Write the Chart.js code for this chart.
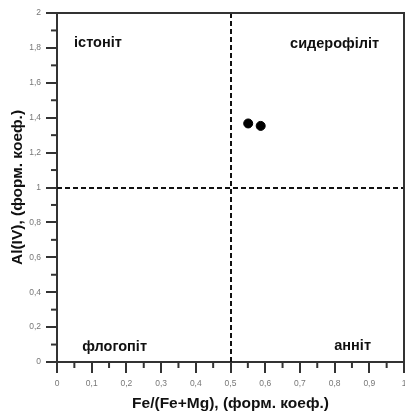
<!DOCTYPE html>
<html>
<head>
<meta charset="utf-8">
<script src="https://cdn.jsdelivr.net/npm/chart.js@4"></script>
<style>
  html, body { margin: 0; padding: 0; background: #fff; }
  #wrap { width: 405px; height: 413px; }
</style>
</head>
<body>
<div id="wrap"><canvas id="chart"></canvas></div>
<script>
// data
var ratioFe = [0.551, 0.587];
var alIV = [1.367, 1.353];

var fieldNames = ["істоніт", "сидерофіліт", "флогопіт", "анніт"];
var fieldX = [0.118, 0.80, 0.166, 0.852];
var fieldY = [1.827, 1.82, 0.086, 0.09];

var xTitle = "Fe/(Fe+Mg), (форм. коеф.)";
var yTitle = "Al(IV), (форм. коеф.)";
var splitX = 0.5;
var splitY = 1;

function comma(v) {
    var r = Math.round(v * 10) / 10;
    return String(r).replace('.', ',');
}

// frame, dividers, minor ticks and field names
var extras = {
    id: 'extras',
    beforeDatasetsDraw(chart) {
        var ctx = chart.ctx, a = chart.chartArea;
        var xs = chart.scales.x, ys = chart.scales.y;
        ctx.save();
        ctx.strokeStyle = '#111';
        ctx.lineWidth = 2;
        ctx.setLineDash([5, 3]);
        var px = Math.round(xs.getPixelForValue(splitX));
        ctx.beginPath();
        ctx.moveTo(px, a.top);
        ctx.lineTo(px, a.bottom);
        ctx.stroke();
        var py = Math.round(ys.getPixelForValue(splitY));
        ctx.beginPath();
        ctx.moveTo(a.left, py);
        ctx.lineTo(a.right, py);
        ctx.stroke();
        ctx.setLineDash([]);

        // minor ticks
        ctx.strokeStyle = '#333';
        ctx.lineWidth = 2;
        for (var i = 1; i < 20; i += 2) {
            var x = xs.getPixelForValue(i * 0.05);
            ctx.beginPath();
            ctx.moveTo(x, a.bottom);
            ctx.lineTo(x, a.bottom + 6);
            ctx.stroke();
            var y = ys.getPixelForValue(i * 0.1);
            ctx.beginPath();
            ctx.moveTo(a.left, y);
            ctx.lineTo(a.left - 6, y);
            ctx.stroke();
        }

        // top and right frame
        ctx.beginPath();
        ctx.moveTo(a.left - 11, a.top);
        ctx.lineTo(a.right, a.top);
        ctx.lineTo(a.right, a.bottom);
        ctx.stroke();

        ctx.fillStyle = '#111';
        ctx.font = 'bold 14.5px "Liberation Sans", Arial, sans-serif';
        ctx.textAlign = 'center';
        ctx.textBaseline = 'middle';
        fieldNames.forEach(function (n, k) {
            ctx.fillText(n, xs.getPixelForValue(fieldX[k]), ys.getPixelForValue(fieldY[k]));
        });
        ctx.restore();
    }
};

var ctx = document.querySelector('#chart').getContext('2d');
var myChart = new Chart(ctx, {
    type: 'scatter',
    data: {
        datasets: [{
            label: 'біотит',
            data: ratioFe.map(function (v, i) { return { x: v, y: alIV[i] }; }),
            backgroundColor: '#000',
            borderColor: '#000',
            pointRadius: 4.5,
            pointHoverRadius: 4.5
        }]
    },
    options: {
        responsive: true,
        maintainAspectRatio: false,
        animation: false,
        layout: { autoPadding: false, padding: { top: 13, right: 1, left: 0, bottom: 0 } },
        plugins: {
            legend: { display: false },
            tooltip: { enabled: false }
        },
        scales: {
            x: {
                type: 'linear',
                min: 0,
                max: 1,
                afterFit: function (s) { s.height = 51; s.paddingRight = 0; s.paddingLeft = 0; },
                border: { display: true, color: '#333', width: 2 },
                grid: { drawOnChartArea: false, drawTicks: true, tickLength: 11, color: '#333', lineWidth: 2 },
                ticks: {
                    stepSize: 0.1,
                    color: '#777',
                    font: { size: 8.5, family: '"Liberation Sans", Arial, sans-serif' },
                    padding: 6,
                    maxRotation: 0,
                    callback: function (v) { return comma(v); }
                },
                title: {
                    display: true,
                    text: xTitle,
                    color: '#111',
                    font: { size: 15.5, weight: 'bold', family: '"Liberation Sans", Arial, sans-serif' },
                    padding: { top: 2, bottom: 0 }
                }
            },
            y: {
                type: 'linear',
                min: 0,
                max: 2,
                afterFit: function (s) { s.width = 57; s.paddingTop = 0; s.paddingBottom = 0; },
                border: { display: true, color: '#333', width: 2 },
                grid: { drawOnChartArea: false, drawTicks: true, tickLength: 11, color: '#333', lineWidth: 2 },
                ticks: {
                    stepSize: 0.2,
                    color: '#777',
                    font: { size: 8.5, family: '"Liberation Sans", Arial, sans-serif' },
                    padding: 5,
                    callback: function (v) { return comma(v); }
                },
                title: {
                    display: true,
                    text: yTitle,
                    color: '#111',
                    font: { size: 15.5, weight: 'bold', family: '"Liberation Sans", Arial, sans-serif' },
                    padding: { top: 8, bottom: 2 }
                }
            }
        }
    },
    plugins: [extras]
});
</script>
</body>
</html>
